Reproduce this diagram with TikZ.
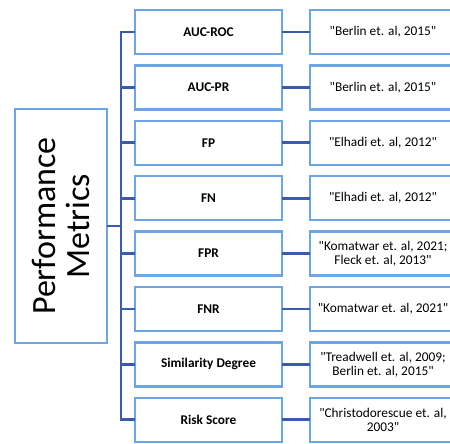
\documentclass[tikz,border=0pt]{standalone}
\usepackage{fontspec}
\setmainfont{Carlito}[Ligatures=TeXOff]
\usepackage{xcolor}
\usepackage{tikz}
\usetikzlibrary{arrows.meta,
positioning,
calc}

\definecolor{boxblue}{RGB}{108,166,228}
\definecolor{linkblue}{RGB}{58,92,172}

\begin{document}
\begin{tikzpicture}[
	x=0.75pt, y=-0.75pt,
	frame/.style={
		draw=boxblue,
		line width=1.8pt,
		outer sep=0pt,
		inner sep=2pt,
		align=center
	},
	metric/.style={
		frame,
		minimum width=110.25pt,
		minimum height=33pt,
		font=\bfseries\fontsize{10}{12}\selectfont
	},
	source/.style={
		frame,
		minimum width=109.5pt,
		minimum height=33pt,
		font=\fontsize{10}{10.6}\selectfont
	},
	link/.style={
		draw=linkblue,
		line width=2pt
	}
	]
	\path[use as bounding box, clip] (0,0) rectangle (450,443);

	\node[frame, rotate=90, minimum width=175.5pt, minimum height=69pt,
		font=\fontsize{25.5}{25}\selectfont] (perf) at (61,226) {Performance\\Metrics};

	\node[metric] (auroc) at (208.5,32) {AUC-ROC};
	\node[metric, below=8.55pt of auroc] (aupr) {AUC-PR};
	\node[metric, below=8.55pt of aupr] (fp) {FP};
	\node[metric, below=8.55pt of fp] (fn) {FN};
	\node[metric, below=8.55pt of fn] (fpr) {FPR};
	\node[metric, below=8.55pt of fpr] (fnr) {FNR};
	\node[metric, below=8.55pt of fnr] (simdeg) {Similarity Degree};
	\node[metric, below=8.55pt of simdeg] (risk) {Risk Score};

	\node[source, right=21pt of auroc] (src-auroc) {"Berlin et. al, 2015"};
	\node[source, right=21pt of aupr] (src-aupr) {"Berlin et. al, 2015"};
	\node[source, right=21pt of fp] (src-fp) {"Elhadi et. al, 2012"};
	\node[source, right=21pt of fn] (src-fn) {"Elhadi et. al, 2012"};
	\node[source, right=21pt of fpr] (src-fpr) {"Komatwar et. al, 2021;\\Fleck et. al, 2013"};
	\node[source, right=21pt of fnr] (src-fnr) {"Komatwar et. al, 2021"};
	\node[source, right=21pt of simdeg] (src-simdeg) {"Treadwell et. al, 2009;\\Berlin et. al, 2015"};
	\node[source, right=21pt of risk] (src-risk) {"Christodorescue et. al,\\2003"};

	% tree from the left box
	\coordinate (hub) at ($(perf.south)+(14,0)$);
	\draw[link] (perf.south) -- (hub);
	\draw[link, line cap=rect] (hub |- auroc.west) -- (hub |- risk.west);
	\draw[link] (hub |- auroc.west) -- (auroc.west);
	\draw[link] (hub |- aupr.west) -- (aupr.west);
	\draw[link] (hub |- fp.west) -- (fp.west);
	\draw[link] (hub |- fn.west) -- (fn.west);
	\draw[link] (hub |- fpr.west) -- (fpr.west);
	\draw[link] (hub |- fnr.west) -- (fnr.west);
	\draw[link] (hub |- simdeg.west) -- (simdeg.west);
	\draw[link] (hub |- risk.west) -- (risk.west);

	% metric to source
	\draw[link] (auroc) -- (src-auroc);
	\draw[link] (aupr) -- (src-aupr);
	\draw[link] (fp) -- (src-fp);
	\draw[link] (fn) -- (src-fn);
	\draw[link] (fpr) -- (src-fpr);
	\draw[link] (fnr) -- (src-fnr);
	\draw[link] (simdeg) -- (src-simdeg);
	\draw[link] (risk) -- (src-risk);
\end{tikzpicture}
\end{document}
